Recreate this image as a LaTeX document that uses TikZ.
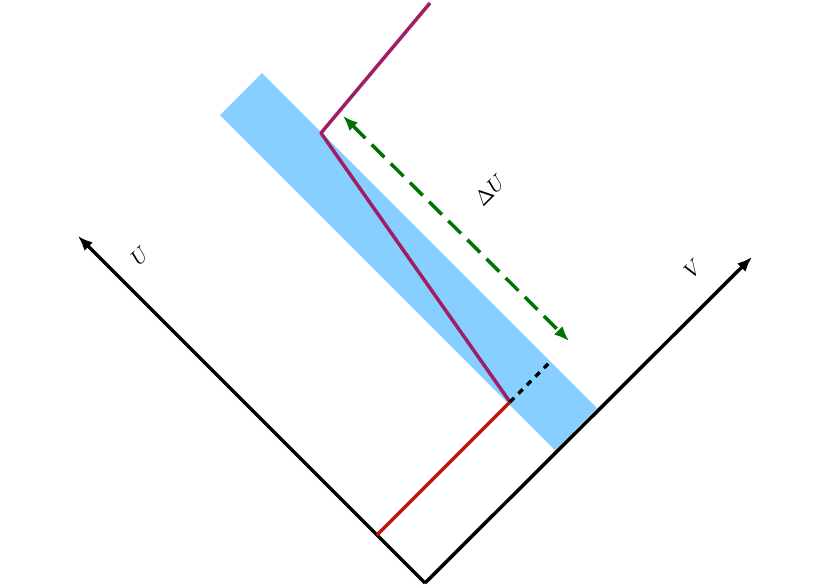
\documentclass[tikz,border=0pt]{standalone}
\usetikzlibrary{arrows.meta}
\definecolor{bandblue}{RGB}{135,207,254}
\definecolor{pur}{RGB}{160,30,100}
\definecolor{rd}{RGB}{190,20,10}
\definecolor{gr}{RGB}{0,115,0}
\tikzset{axis/.style={line width=3.5pt,-{Latex[length=15pt,width=12pt]}},
lbl/.style={rotate=45,inner sep=0pt}}
\newcommand{\biglbl}[1]{\scalebox{2.1}{$#1$}}
\begin{document}
\begin{tikzpicture}[x=1pt,y=-1pt]
\useasboundingbox (0,0) rectangle (830,587);
\fill[bandblue] (220,115) -- (262,73) -- (597,408) -- (555,450) -- cycle;
\coordinate (O) at (425,583);
\coordinate (Ue) at (78,236);
\coordinate (Ve) at (752,257);
\coordinate (R0) at (377,535);
\coordinate (P) at (510,402);
\coordinate (Q) at (321,133);
\coordinate (T) at (430,3);
\coordinate (D) at (552,360);
\draw[axis] (O) -- (Ue);
\draw[axis] (O) -- (Ve);
\draw[rd,line width=3.5pt] (R0) -- (P);
\draw[pur,line width=3.5pt,line join=round] (P) -- (Q) -- (T);
\draw[line width=3.5pt,dash pattern=on 6pt off 6pt] (P) -- (D);
\draw[gr,line width=3.5pt,dash pattern=on 18pt off 9pt,{Latex[length=15pt,width=12pt]}-{Latex[length=15pt,width=12pt]}] (343,116) -- (569,341);
\node[lbl] (du) at (490,190) {\biglbl{\Delta U}};
\node[lbl] (ul) at (140,256) {\biglbl{U}};
\node[lbl] (vl) at (693,268) {\biglbl{V}};
\end{tikzpicture}
\end{document}
